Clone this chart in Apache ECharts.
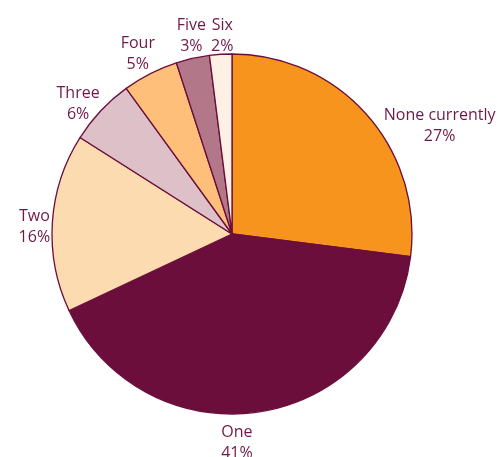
<!DOCTYPE html>
<html>
<head>
<meta charset="utf-8">
<script src="https://cdn.jsdelivr.net/npm/echarts@6/dist/echarts.min.js"></script>
<style>
  html, body { margin: 0; padding: 0; background: #fff; }
  #chart { width: 498px; height: 457px; }
</style>
</head>
<body>
<div id="chart"></div>
<script>
// Number of items held, share of respondents (%)
const categories = ['None currently', 'One', 'Two', 'Three', 'Four', 'Five', 'Six'];
const shares = [27, 41, 16, 6, 5, 3, 2];
const sliceColors = ['#F7941D', '#6B0E3C', '#FDDBB0', '#DEC0C9', '#FDBF79', '#B2788A', '#FEF0E2'];

const CX = 232, CY = 234, R = 180;
const textColor = '#6E1947';

// hand tweaks for label blocks that sit away from the plain radial spot
const labelNudge = [[30, 49], [-27, 7], [0, 5], [0, 14], [0, 5], [4, 2], [3, 4]];

const total = shares.reduce((a, b) => a + b, 0);
// mid-angle of each slice, clockwise from 12 o'clock
const midAngles = [];
let acc = 0;
shares.forEach(v => {
  midAngles.push(((acc + v / 2) / total) * Math.PI * 2);
  acc += v;
});

const chart = echarts.init(document.getElementById('chart'), null, { renderer: 'canvas' });
chart.setOption({
  animation: false,
  series: [{
    type: 'pie',
    center: [CX, CY],
    radius: [0, R],
    startAngle: 90,
    clockwise: true,
    avoidLabelOverlap: false,
    itemStyle: { borderColor: '#6B0E3C', borderWidth: 1.3 },
    label: {
      show: true,
      position: 'outside',
      formatter: '{b}\n{c}%',
      fontFamily: 'Open Sans',
      fontSize: 16,
      lineHeight: 21,
      color: textColor
    },
    labelLine: { show: false },
    labelLayout: function (params) {
      // push each label block just outside the rim along its slice's mid-angle
      const i = params.dataIndex;
      const a = midAngles[i];
      const dx = Math.sin(a), dy = -Math.cos(a);
      const w = params.labelRect.width / 2, h = params.labelRect.height / 2;
      const d = R + 1 + Math.abs(dx) * w + Math.abs(dy) * h;
      return {
        x: CX + d * dx + labelNudge[i][0],
        y: CY + d * dy + labelNudge[i][1],
        align: 'center',
        verticalAlign: 'middle'
      };
    },
    data: categories.map((c, i) => ({
      name: c,
      value: shares[i],
      itemStyle: { color: sliceColors[i] }
    }))
  }]
});
</script>
</body>
</html>
